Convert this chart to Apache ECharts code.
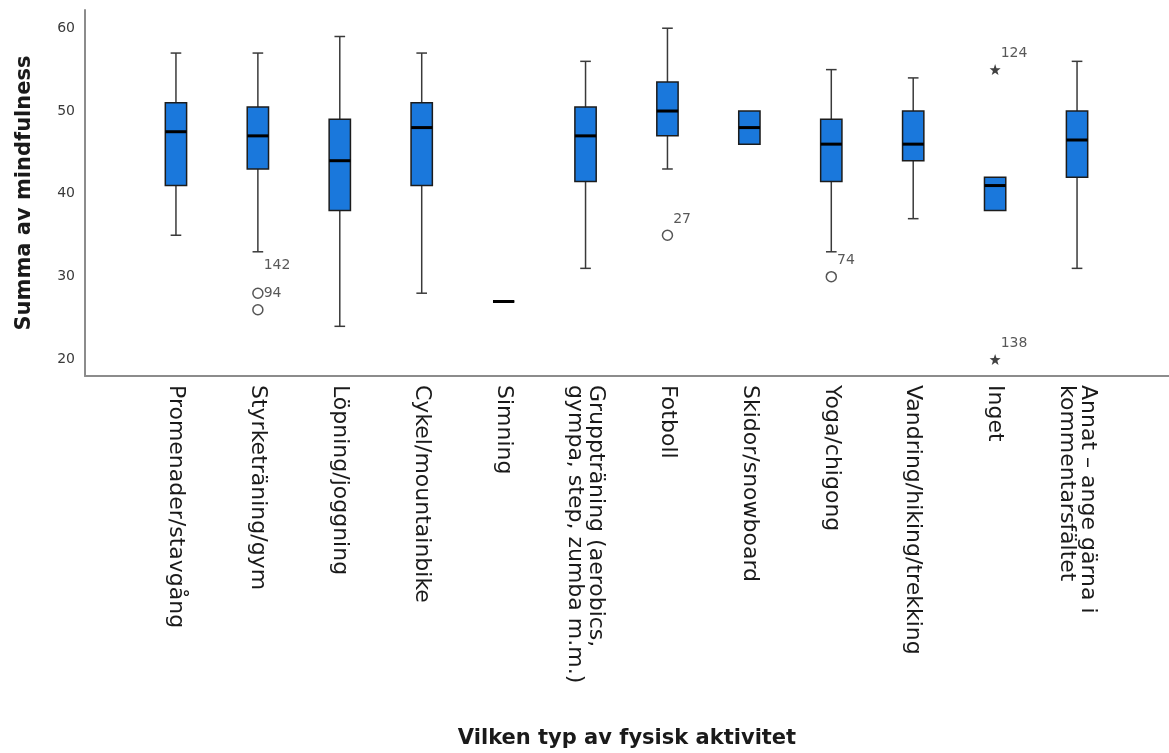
<!DOCTYPE html>
<html>
<head>
<meta charset="utf-8">
<style>
  html, body { margin: 0; padding: 0; background: #ffffff; }
  #chart { width: 1169px; height: 753px; }
</style>
<script src="https://cdn.jsdelivr.net/npm/echarts@6/dist/echarts.min.js"></script>
</head>
<body>
<div id="chart"></div>
<script>
// Activity categories (x axis)
var categories = [
  'Promenader/stavgång',
  'Styrketräning/gym',
  'Löpning/joggning',
  'Cykel/mountainbike',
  'Simning',
  'Gruppträning (aerobics,\ngympa, step, zumba m.m.)',
  'Fotboll',
  'Skidor/snowboard',
  'Yoga/chigong',
  'Vandring/hiking/trekking',
  'Inget',
  'Annat – ange gärna i\nkommentarsfältet'
];

// Five-number summaries per activity
var whiskerLow  = [35, 33, 24, 28, 27, 31,   43, 46, 33,   37, 38, 31];
var quartile1   = [41, 43, 38, 41, 27, 41.5, 47, 46, 41.5, 44, 38, 42];
var medians     = [47.5, 47, 44, 48, 27, 47, 50, 48, 46,   46, 41, 46.5];
var quartile3   = [51, 50.5, 49, 51, 27, 50.5, 53.5, 50, 49, 50, 42, 50];
var whiskerHigh = [57, 57, 59, 57, 27, 56,   60, 50, 55,   54, 42, 56];

// Outliers (circle) and extreme values (star), with case numbers
var outlierCategory = [1, 1, 6, 8];
var outlierValue    = [28, 26, 35, 30];
var outlierCase     = ['142', '94', '27', '74'];

var extremeCategory = [10, 10];
var extremeValue    = [55, 20];
var extremeCase     = ['124', '138'];

// Y axis tick labels
var yTicks = [20, 30, 40, 50, 60];

var FONT = 'DejaVu Sans';
var BOX_BLUE = '#1a78dc';
var INK = '#1c1c1c';
var AXIS_GREY = '#8c8c8c';

var boxData = categories.map(function (c, i) {
  return [i, whiskerLow[i], quartile1[i], medians[i], quartile3[i], whiskerHigh[i]];
});

// label nudges so case numbers do not collide
var caseLabelLift = { '142': -28 };

function caseLabel(id) {
  return {
    show: true,
    formatter: id,
    position: 'right',
    distance: 0,
    offset: [0, caseLabelLift[id] !== undefined ? caseLabelLift[id] : -16],
    fontFamily: FONT,
    fontSize: 14,
    color: '#2e2e2e'
  };
}

var outlierPoints = outlierCase.map(function (id, i) {
  return { value: [outlierCategory[i], outlierValue[i]], label: caseLabel(id) };
});
var extremePoints = extremeCase.map(function (id, i) {
  return { value: [extremeCategory[i], extremeValue[i]], label: caseLabel(id) };
});

var STAR = 'path://M0,-10L2.35,-3.24L9.51,-3.09L3.8,1.24L5.88,8.09L0,4L-5.88,8.09L-3.8,1.24L-9.51,-3.09L-2.35,-3.24Z';

function renderBox(params, api) {
  var x = api.value(0);
  var lo = api.value(1), q1 = api.value(2), md = api.value(3), q3 = api.value(4), hi = api.value(5);
  var band = api.size([1, 0])[0];
  var half = band * 0.13;
  var cap = band * 0.065;
  var pLo = api.coord([x, lo]);
  var pQ1 = api.coord([x, q1]);
  var pMd = api.coord([x, md]);
  var pQ3 = api.coord([x, q3]);
  var pHi = api.coord([x, hi]);
  var cx = pMd[0];
  var whisk = { stroke: '#3a3a3a', lineWidth: 1.5 };
  var kids = [];
  if (hi > q3) {
    kids.push({ type: 'line', shape: { x1: cx, y1: pQ3[1], x2: cx, y2: pHi[1] }, style: whisk });
    kids.push({ type: 'line', shape: { x1: cx - cap, y1: pHi[1], x2: cx + cap, y2: pHi[1] }, style: whisk });
  }
  if (lo < q1) {
    kids.push({ type: 'line', shape: { x1: cx, y1: pQ1[1], x2: cx, y2: pLo[1] }, style: whisk });
    kids.push({ type: 'line', shape: { x1: cx - cap, y1: pLo[1], x2: cx + cap, y2: pLo[1] }, style: whisk });
  }
  kids.push({
    type: 'rect',
    shape: { x: cx - half, y: pQ3[1], width: half * 2, height: pQ1[1] - pQ3[1] },
    style: { fill: BOX_BLUE, stroke: INK, lineWidth: 1.5 }
  });
  kids.push({
    type: 'line',
    shape: { x1: cx - half, y1: pMd[1], x2: cx + half, y2: pMd[1] },
    style: { stroke: '#000000', lineWidth: 3 }
  });
  return { type: 'group', children: kids };
}

var chart = echarts.init(document.getElementById('chart'), null, { renderer: 'canvas' });

chart.setOption({
  backgroundColor: '#ffffff',
  animation: false,
  grid: [
    { left: 85, right: 0, top: 10, bottom: 377 },
    { left: 135, right: 51, top: 10, bottom: 377 }
  ],
  xAxis: [
    {
      gridIndex: 0,
      type: 'value',
      min: 0,
      max: 1,
      axisLine: { show: true, lineStyle: { color: AXIS_GREY, width: 2 } },
      axisTick: { show: false },
      axisLabel: { show: false },
      splitLine: { show: false },
      name: 'Vilken typ av fysisk aktivitet',
      nameLocation: 'middle',
      nameGap: 352,
      nameTextStyle: { fontFamily: FONT, fontSize: 21, fontWeight: 'bold', color: '#1a1a1a' }
    },
    {
      gridIndex: 1,
      type: 'category',
      data: categories,
      axisLine: { show: false },
      axisTick: { show: false },
      splitLine: { show: false },
      axisLabel: {
        interval: 0,
        rotate: -90,
        margin: 9,
        fontFamily: FONT,
        fontSize: 22,
        lineHeight: 21,
        color: '#1a1a1a'
      }
    }
  ],
  yAxis: [
    {
      gridIndex: 0,
      type: 'value',
      min: 18,
      max: 62.2,
      axisLine: { show: true, lineStyle: { color: AXIS_GREY, width: 2 } },
      axisTick: { show: false },
      splitLine: { show: false },
      axisLabel: {
        customValues: yTicks,
        margin: 10,
        fontFamily: FONT,
        fontSize: 14,
        color: '#3a3a3a'
      },
      name: 'Summa av mindfulness',
      nameLocation: 'middle',
      nameRotate: 90,
      nameGap: 50,
      nameTextStyle: { fontFamily: FONT, fontSize: 21, fontWeight: 'bold', color: '#1a1a1a' }
    },
    {
      gridIndex: 1,
      type: 'value',
      min: 18,
      max: 62.2,
      show: false
    }
  ],
  series: [
    {
      type: 'custom',
      xAxisIndex: 1,
      yAxisIndex: 1,
      data: boxData,
      renderItem: renderBox,
      encode: { x: 0, y: [1, 2, 3, 4, 5] },
      z: 2
    },
    {
      type: 'scatter',
      xAxisIndex: 1,
      yAxisIndex: 1,
      symbol: 'circle',
      symbolSize: 10,
      itemStyle: { color: '#ffffff', borderColor: '#2a2a2a', borderWidth: 1.5 },
      data: outlierPoints,
      z: 3
    },
    {
      type: 'scatter',
      xAxisIndex: 1,
      yAxisIndex: 1,
      symbol: STAR,
      symbolSize: 11,
      itemStyle: { color: '#111111' },
      data: extremePoints,
      z: 3
    }
  ]
});
</script>
</body>
</html>
